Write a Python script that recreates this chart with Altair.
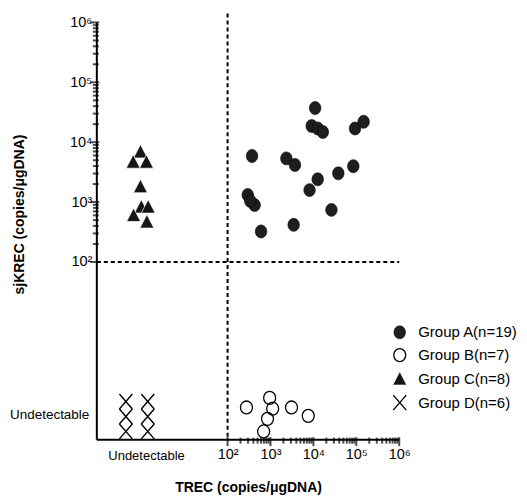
import altair as alt
import numpy as np
import pandas as pd

# ---- values (log10 of copies/ugDNA; undetectable
# samples sit in the "Undetectable" band below / left of 10^2) ----
GROUPS = ["Group A(n=19)", "Group B(n=7)", "Group C(n=8)", "Group D(n=6)"]

A_trec = [4.04, 3.96, 4.10, 4.22, 4.97, 5.17, 2.57, 3.37, 3.57, 4.10, 3.91, 4.58, 4.93, 2.47, 2.63, 2.78, 3.54, 4.42, 2.53]
A_sjkrec = [4.57, 4.27, 4.23, 4.17, 4.23, 4.34, 3.77, 3.73, 3.62, 3.38, 3.20, 3.48, 3.60, 3.12, 2.95, 2.51, 2.62, 2.87, 3.02]

B_trec = [2.44, 2.98, 3.05, 2.93, 2.84, 3.49, 3.88]
B_sjkrec = [-0.43, -0.27, -0.45, -0.62, -0.83, -0.43, -0.57]

C_trec = [-0.03, -0.20, 0.11, -0.03, -0.01, 0.15, -0.19, 0.12]
C_sjkrec = [3.84, 3.67, 3.67, 3.26, 2.92, 2.92, 2.78, 2.67]

D_trec = [-0.37, -0.37, -0.37, 0.14, 0.14, 0.14]
D_sjkrec = [-0.33, -0.58, -0.83, -0.33, -0.58, -0.83]

MAJOR_EXP = [2, 3, 4, 5, 6]
X_UNDET = 0.10      # position of the x "Undetectable" label
Y_UNDET = -0.55     # position of the y "Undetectable" label
CUTOFF = 2          # 10^2 detection cut-off (dashed lines)

X_MIN, X_MAX = -1.047, 6.0
Y_MIN, Y_MAX = -0.967, 6.0

PLOT_W, PLOT_H = 303, 418

rows = []
for g, xs, ys in zip(GROUPS, [A_trec, B_trec, C_trec, D_trec], [A_sjkrec, B_sjkrec, C_sjkrec, D_sjkrec]):
    for a, b in zip(xs, ys):
        rows.append({"group": g, "trec": a, "sjkrec": b})
df = pd.DataFrame(rows)

MINOR = [float(round(e + np.log10(k), 5)) for e in MAJOR_EXP[:-1] for k in range(2, 10)]

sup = "['\u2070','\u00b9','\u00b2','\u00b3','\u2074','\u2075','\u2076']"
power_expr = "'10' + " + sup + "[round(datum.value)]"

FONT = "Liberation Sans"

base = dict(
    labelOverlap=False,
    labelFlush=False,
    labelFont=FONT,
    labelColor="black",
    ticks=False,
    domain=False,
    grid=False,
)

MAJ_LEN, MIN_LEN = 9, 6

x_major = alt.Axis(values=MAJOR_EXP, labelExpr=power_expr, labelPadding=8,
                   orient="bottom", labelFontSize=14.5,
                   title="TREC (copies/\u03bcgDNA)", titleFont=FONT, titleFontSize=14,
                   titleFontWeight="bold", titleColor="black", titleY=48,
                   titleBaseline="middle", **base)
x_undet = alt.Axis(values=[X_UNDET], labelExpr="'Undetectable'",
                   labelFontSize=13, labelPadding=10, title=None,
                   orient="bottom", **base)

y_major = alt.Axis(values=MAJOR_EXP, labelExpr=power_expr, labelPadding=5,
                   orient="left", labelFontSize=14.5,
                   title="sjKREC (copies/\u03bcgDNA)", titleFont=FONT, titleFontSize=14,
                   titleFontWeight="bold", titleColor="black", titleX=-77, titleY=192,
                   titleBaseline="middle", titleAngle=-90, **base)
y_undet = alt.Axis(values=[Y_UNDET], labelExpr="'Undetectable'",
                   labelFontSize=13.5, labelPadding=8, title=None,
                   orient="left", **base)

x_scale = alt.Scale(domain=[X_MIN, X_MAX], nice=False, zero=False)
y_scale = alt.Scale(domain=[Y_MIN, Y_MAX], nice=False, zero=False)

SHAPES = [
    "M-1.15,0A1.15,1.3 0 1,0 1.15,0A1.15,1.3 0 1,0 -1.15,0Z",
    "M-1.2,0A1.2,1.3 0 1,0 1.2,0A1.2,1.3 0 1,0 -1.2,0Z",
    "M0,-1.45L1.4,1.25L-1.4,1.25Z",
    "M-1.3,-1.5L1.3,1.5M-1.3,1.5L1.3,-1.5",
]

legend = alt.Legend(
    title=None,
    orient="none",
    legendX=296,
    legendY=303,
    padding=0,
    rowPadding=4.8,
    labelOffset=11,
    labelFont=FONT,
    labelFontSize=15,
    labelColor="black",
    symbolSize=100,
    symbolOpacity=1,
)

X = lambda ax=None: alt.X("trec:Q", scale=x_scale, axis=ax)
Y = lambda ax=None: alt.Y("sjkrec:Q", scale=y_scale, axis=ax)

points = alt.Chart(df).mark_point(filled=True, size=100, opacity=1).encode(
    x=X(x_undet),
    y=Y(y_undet),
    shape=alt.Shape("group:N", scale=alt.Scale(domain=GROUPS, range=SHAPES), legend=legend),
    fill=alt.Fill("group:N", scale=alt.Scale(domain=GROUPS, range=["#1e1e1e", "transparent", "#151515", "transparent"]), legend=legend),
    stroke=alt.Stroke("group:N", scale=alt.Scale(domain=GROUPS, range=["#000000", "#000000", "#ffffff", "#000000"]), legend=legend),
    strokeWidth=alt.StrokeWidth("group:N", scale=alt.Scale(type="ordinal", domain=GROUPS, range=[0.6, 1.3, 0.7, 1.4]), legend=legend),
)

dash = dict(color="black", strokeWidth=2, strokeDash=[4, 3])
vrule = alt.Chart(pd.DataFrame({"trec": [CUTOFF], "sjkrec": [Y_MAX + 0.15], "sjkrec2": [Y_MIN]})
                  ).mark_rule(**dash).encode(x=X(x_major), y=Y(y_major), y2="sjkrec2:Q")
hrule = alt.Chart(pd.DataFrame({"trec": [X_MIN], "trec2": [X_MAX], "sjkrec": [CUTOFF]})
                  ).mark_rule(**dash).encode(x=X(), x2="trec2:Q", y=Y())

# axis lines
xdom = alt.Chart(pd.DataFrame({"trec": [X_MIN], "trec2": [X_MAX], "sjkrec": [Y_MIN]})
                 ).mark_rule(color="black", strokeWidth=2).encode(x=X(), x2="trec2:Q", y=Y())
ydom = alt.Chart(pd.DataFrame({"trec": [X_MIN], "sjkrec": [Y_MIN], "sjkrec2": [Y_MAX]})
                 ).mark_rule(color="black", strokeWidth=2).encode(x=X(), y=Y(), y2="sjkrec2:Q")

# axis ticks as tick marks (major and minor, log-decade positions), mostly outward
maj_df = pd.DataFrame({"trec": MAJOR_EXP, "sjkrec": MAJOR_EXP})
min_df = pd.DataFrame({"trec": MINOR, "sjkrec": MINOR})

xt_major = alt.Chart(maj_df).mark_tick(color="#000000", thickness=2, size=MAJ_LEN, orient="vertical").encode(
    x=X(), y=alt.value(PLOT_H + 2))
xt_minor = alt.Chart(min_df).mark_tick(color="#000000", thickness=2, size=MIN_LEN, orient="vertical").encode(
    x=X(), y=alt.value(PLOT_H + 1))
yt_major = alt.Chart(maj_df).mark_tick(color="#000000", thickness=2, size=MAJ_LEN, orient="horizontal").encode(
    y=Y(), x=alt.value(-2))
yt_minor = alt.Chart(min_df).mark_tick(color="#000000", thickness=2, size=MIN_LEN, orient="horizontal").encode(
    y=Y(), x=alt.value(-1))

chart = alt.layer(vrule, hrule, xdom, ydom, xt_major, xt_minor, yt_major, yt_minor, points).resolve_axis(
    x="independent", y="independent"
).properties(
    width=PLOT_W,
    height=PLOT_H,
    autosize=alt.AutoSizeParams(type="none"),
    padding={"left": 89, "top": 14, "right": 120, "bottom": 56},
    background="white",
).configure_view(stroke=None)

chart.save("out.html", embed_options={"renderer": "svg", "actions": False})
